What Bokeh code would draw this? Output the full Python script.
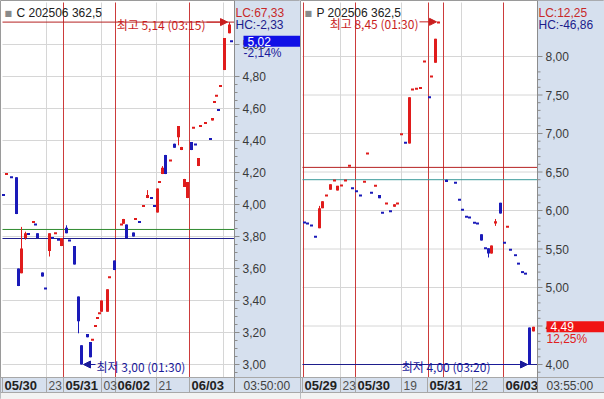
from bokeh.plotting import figure
from bokeh.models import (Range1d, Label, Arrow, NormalHead, BoxAnnotation, ColumnDataSource)
from bokeh.layouts import row
from bokeh.embed import file_html
from bokeh.resources import INLINE
from bokeh.core.properties import value

# ---------------- Call option: C 202506 362,5 ----------------
call_slot  = [3, 6, 11, 16, 18, 21, 25, 28, 33, 35, 37, 42, 45, 49, 52, 55, 58, 61, 66, 69,
              74, 78, 81, 87, 90, 92, 95, 97, 99, 101, 107, 109, 114, 121, 123, 126, 133, 135, 139, 143,
              147, 151, 154, 157, 159, 162, 165, 170, 174, 178, 181, 184, 187, 191, 193, 195, 198, 200, 205, 210,
              212, 214, 216, 218, 220, 224, 229, 231]
call_open  = [4.06, 4.19, 4.17, 4.17, 3.60, 3.57, 3.79, 3.815, 3.89, 3.875, 3.82, 3.575, 3.475, 3.71, 3.79, 3.82, 3.78, 3.74, 3.855, 3.775,
              3.74, 3.425, 3.12, 3.19, 3.14, 3.155, 3.24, 3.29, 3.32, 3.33, 3.33, 3.545, 3.65, 3.875, 3.88, 3.875, 3.825, 3.91, 3.89, 3.99,
              4.04, 4.04, 3.99, 3.95, 4.14, 4.19, 4.31, 4.275, 4.38, 4.42, 4.34, 4.11, 4.04, 4.39, 4.48, 4.375, 4.24, 4.49, 4.51, 4.41,
              4.525, 4.64, 4.68, 4.59, 4.74, 4.84, 5.07, 5.02]
call_high  = [4.06, 4.19, 4.17, 4.17, 3.60, 3.86, 3.83, 3.815, 3.89, 3.875, 3.82, 3.575, 3.475, 3.82, 3.79, 3.82, 3.78, 3.79, 3.87, 3.775,
              3.74, 3.425, 3.12, 3.19, 3.14, 3.155, 3.24, 3.29, 3.32, 3.40, 3.47, 3.545, 3.65, 3.875, 3.91, 3.875, 3.825, 3.91, 3.89, 3.99,
              4.09, 4.04, 3.99, 4.10, 4.14, 4.24, 4.31, 4.275, 4.38, 4.49, 4.36, 4.16, 4.14, 4.39, 4.48, 4.375, 4.29, 4.49, 4.51, 4.41,
              4.54, 4.64, 4.68, 4.59, 4.74, 5.04, 5.14, 5.02]
call_low   = [4.06, 4.19, 4.17, 3.94, 3.49, 3.57, 3.78, 3.815, 3.89, 3.875, 3.79, 3.55, 3.475, 3.675, 3.79, 3.82, 3.78, 3.74, 3.82, 3.775,
              3.625, 3.195, 3.00, 3.17, 3.045, 3.155, 3.24, 3.29, 3.32, 3.33, 3.33, 3.545, 3.59, 3.875, 3.88, 3.79, 3.80, 3.91, 3.89, 3.99,
              4.04, 4.04, 3.99, 3.95, 4.14, 4.19, 4.19, 4.275, 4.355, 4.37, 4.34, 4.11, 4.04, 4.34, 4.48, 4.375, 4.24, 4.49, 4.51, 4.41,
              4.525, 4.64, 4.68, 4.59, 4.74, 4.84, 5.07, 5.02]
call_close = [4.06, 4.19, 4.17, 3.94, 3.49, 3.725, 3.82, 3.815, 3.89, 3.875, 3.79, 3.55, 3.475, 3.82, 3.79, 3.82, 3.78, 3.79, 3.82, 3.775,
              3.625, 3.27, 3.00, 3.17, 3.045, 3.155, 3.24, 3.29, 3.32, 3.40, 3.47, 3.545, 3.59, 3.875, 3.91, 3.79, 3.80, 3.91, 3.89, 3.99,
              4.06, 4.04, 3.99, 4.10, 4.14, 4.23, 4.19, 4.275, 4.355, 4.49, 4.36, 4.16, 4.14, 4.34, 4.48, 4.375, 4.29, 4.49, 4.51, 4.41,
              4.54, 4.64, 4.68, 4.59, 4.74, 5.04, 5.125, 5.02]
call_day_start  = [63, 115, 189]
call_hour_lines = [46, 101, 156, 223]
call_tick_pos   = [2, 46, 63, 101, 115, 156, 189]
call_tick_text  = ["05/30", "23", "05/31", "03", "06/02", "21", "06/03"]
call_levels     = [5.14, 3.844, 3.7875]
call_y_major    = [3.0, 3.2, 3.4, 3.6, 3.8, 4.0, 4.2, 4.4, 4.6, 4.8, 5.0]
call_info       = dict(name="C 202506 362,5", lc="LC:67,33", hc="HC:-2,33", pct="-2,14%",
                       clock="03:50:00", hi_time="03:15", lo_time="01:30")

# ---------------- Put option: P 202506 362,5 ----------------
put_slot  = [304, 307, 311, 315, 319, 322, 326, 330, 334, 337, 341, 345, 349, 352, 356, 360, 364, 367, 371, 375,
             379, 382, 386, 390, 394, 397, 401, 405, 409, 412, 416, 420, 424, 429, 431, 435, 438, 446, 455, 459,
             462, 466, 469, 474, 477, 481, 485, 488, 491, 495, 500, 504, 507, 510, 515, 518, 522, 525, 529, 533]
put_open  = [5.845, 5.83, 5.805, 5.66, 5.77, 6.03, 6.195, 6.27, 6.39, 6.26, 6.325, 6.39, 6.58, 6.29, 6.25, 6.195, 6.375, 6.74, 6.23, 6.32,
             6.20, 5.97, 6.09, 5.99, 6.05, 6.09, 6.99, 6.88, 6.87, 7.57, 7.58, 7.59, 7.935, 7.47, 7.74, 7.92, 8.44, 6.40, 6.36, 6.14,
             6.01, 5.92, 5.91, 5.84, 5.83, 5.69, 5.51, 5.51, 5.44, 5.83, 6.10, 5.58, 5.79, 5.49, 5.42, 5.31, 5.20, 5.18, 4.48, 4.43]
put_high  = [5.845, 5.83, 5.805, 5.66, 6.06, 6.12, 6.195, 6.34, 6.39, 6.32, 6.325, 6.39, 6.58, 6.29, 6.25, 6.195, 6.375, 6.74, 6.23, 6.32,
             6.20, 5.97, 6.09, 5.99, 6.08, 6.09, 6.99, 6.88, 7.47, 7.57, 7.58, 7.59, 7.935, 7.47, 7.74, 8.23, 8.45, 6.40, 6.36, 6.14,
             6.01, 5.92, 5.91, 5.84, 5.83, 5.69, 5.51, 5.51, 5.545, 5.89, 6.10, 5.58, 5.79, 5.49, 5.42, 5.31, 5.20, 5.18, 4.48, 4.49]
put_low   = [5.845, 5.83, 5.805, 5.66, 5.77, 6.03, 6.195, 6.27, 6.39, 6.26, 6.325, 6.39, 6.58, 6.29, 6.25, 6.195, 6.375, 6.74, 6.23, 6.32,
             6.16, 5.97, 6.09, 5.99, 6.05, 6.09, 6.99, 6.88, 6.87, 7.57, 7.58, 7.59, 7.935, 7.47, 7.74, 7.92, 8.44, 6.37, 6.36, 6.14,
             6.01, 5.92, 5.91, 5.84, 5.83, 5.61, 5.51, 5.39, 5.44, 5.80, 5.96, 5.58, 5.79, 5.49, 5.42, 5.31, 5.20, 5.18, 4.00, 4.43]
put_close = [5.845, 5.83, 5.805, 5.66, 6.03, 6.12, 6.195, 6.34, 6.39, 6.32, 6.325, 6.39, 6.58, 6.29, 6.25, 6.195, 6.375, 6.74, 6.23, 6.32,
             6.16, 5.97, 6.09, 5.99, 6.08, 6.09, 6.99, 6.88, 7.47, 7.57, 7.58, 7.59, 7.935, 7.47, 7.74, 8.23, 8.44, 6.37, 6.36, 6.14,
             6.01, 5.92, 5.91, 5.84, 5.83, 5.61, 5.51, 5.44, 5.545, 5.86, 5.96, 5.58, 5.79, 5.49, 5.42, 5.31, 5.20, 5.18, 4.00, 4.49]
put_day_start  = [303, 355, 428, 443, 503]
put_hour_lines = [340, 401, 461]
put_tick_pos   = [302, 340, 355, 401, 427, 472, 503]
put_tick_text  = ["05/29", "23", "05/30", "19", "05/31", "22", "06/03"]
put_levels     = [6.56, 6.40, 4.00]
put_y_major    = [4.0, 4.5, 5.0, 5.5, 6.0, 6.5, 7.0, 7.5, 8.0]
put_info       = dict(name="P 202506 362,5", lc="LC:12,25", hc="HC:-46,86", pct="12,25%",
                      clock="03:55:00", hi_time="01:30", lo_time="03:20")

UP, DOWN = "#e01c1c", "#1a1ab8"
AXIS_BG = "#d6e0ee"
GRID = "#d6d6d6"
SEP = "#a8a8a8"
AXIS = "#8c8c8c"
DAYLINE = "#cc3b3b"
SANS = "Liberation Sans"
KR = "Noto Sans CJK KR"
HEIGHT = 399
PLOT_TOP_PX, PLOT_BOTTOM_PX, ROW_BOTTOM_PX = 2, 377, 392


def fmt(v):
    return f"{v:.2f}".replace(".", ",")


def candle_colors(o, c):
    cols, prev = [], None
    for oi, ci in zip(o, c):
        if ci > oi:
            up = True
        elif ci < oi:
            up = False
        else:
            up = prev is not None and ci >= prev
        cols.append(UP if up else DOWN)
        prev = ci
    return cols


def panel(t, o, h, l, c, x0, width, plot_right, y_view, y_major, y_minor_step,
          day_start, hour_lines, tick_pos, tick_text, levels, level_colors,
          info, box_color, pct_color, hi_gap, hi_side, lo_gap, lo_side):
    p = figure(width=width, height=HEIGHT, x_range=Range1d(x0, x0 + width),
               y_range=Range1d(*y_view), x_axis_location=None, y_axis_location=None,
               toolbar_location=None, output_backend="svg", min_border=0,
               background_fill_color="white", border_fill_color="white",
               outline_line_color="#9a9a9a")
    p.grid.visible = False

    def v(px):  # price value at a given pixel row of the panel
        return y_view[1] - px * (y_view[1] - y_view[0]) / HEIGHT

    plot_left = x0 + 2
    top, bottom, row_bottom = v(PLOT_TOP_PX), v(PLOT_BOTTOM_PX), v(ROW_BOTTOM_PX)
    x_end = x0 + width

    # panel backgrounds (price-axis column, time-axis row, bottom strip)
    p.add_layout(BoxAnnotation(left=plot_right, fill_color=AXIS_BG, fill_alpha=1,
                               line_alpha=0, level="underlay"))
    p.add_layout(BoxAnnotation(top=bottom, fill_color=AXIS_BG, fill_alpha=1,
                               line_alpha=0, level="underlay"))
    p.add_layout(BoxAnnotation(top=row_bottom, fill_color="#f3f3f3", fill_alpha=1,
                               line_alpha=0, level="underlay"))

    # horizontal grid at price ticks
    p.segment(x0=plot_left, x1=plot_right, y0=y_major, y1=y_major, line_color=GRID, line_width=1)
    # vertical hour grid / day separators
    p.segment(x0=hour_lines, x1=hour_lines, y0=bottom, y1=top, line_color=GRID, line_width=1)
    p.segment(x0=day_start, x1=day_start, y0=bottom, y1=top, line_color=DAYLINE, line_width=1)
    # horizontal level lines
    p.segment(x0=plot_left, x1=plot_right, y0=levels, y1=levels, line_color=level_colors, line_width=1)

    # time axis row: borders, separators, labels
    p.segment(x0=x0, x1=x_end, y0=[bottom, row_bottom], y1=[bottom, row_bottom],
              line_color=SEP, line_width=1)
    p.segment(x0=tick_pos, x1=tick_pos, y0=row_bottom, y1=bottom, line_color=SEP, line_width=1)
    is_date = ["/" in s for s in tick_text]
    p.text(x=[tx + 2 for tx in tick_pos], y=[v(385)] * len(tick_pos), text=tick_text,
           text_font=value(SANS), text_baseline="middle",
           text_font_size=["13px" if d else "12px" for d in is_date],
           text_font_style=["bold" if d else "normal" for d in is_date],
           text_color=["#222222" if d else "#505050" for d in is_date])
    p.text(x=[plot_right + 9], y=[v(385)], text=[info["clock"]], text_font=value(SANS),
           text_font_size="12px", text_baseline="middle", text_color="#404040")

    # price axis: line, ticks, labels
    p.segment(x0=plot_right, x1=plot_right, y0=row_bottom, y1=v(0), line_color=AXIS, line_width=1)
    n_minor = int(round((top - bottom) / y_minor_step)) + 4
    minors = [round(y_major[0] + (i - 2) * y_minor_step, 3) for i in range(n_minor)]
    minors = [m for m in minors if bottom <= m <= v(70) and m not in y_major]
    p.segment(x0=plot_right, x1=plot_right + 3, y0=minors, y1=minors, line_color=AXIS, line_width=1)
    p.segment(x0=plot_right, x1=plot_right + 5, y0=y_major, y1=y_major, line_color=AXIS, line_width=1)
    p.text(x=[plot_right + 8] * len(y_major), y=y_major, text=[fmt(m) for m in y_major],
           text_font=value(SANS), text_font_size="12px", text_baseline="middle",
           text_color="#3a3a3a")

    # candles
    cols = candle_colors(o, c)
    body = ColumnDataSource(dict(
        t=[ti for ti, oi, ci in zip(t, o, c) if oi != ci],
        top=[max(oi, ci) for oi, ci in zip(o, c) if oi != ci],
        bottom=[min(oi, ci) for oi, ci in zip(o, c) if oi != ci],
        color=[co for co, oi, ci in zip(cols, o, c) if oi != ci]))
    doji = ColumnDataSource(dict(
        t=[ti for ti, oi, ci in zip(t, o, c) if oi == ci],
        y=[ci for oi, ci in zip(o, c) if oi == ci],
        color=[co for co, oi, ci in zip(cols, o, c) if oi == ci]))
    wick = ColumnDataSource(dict(t=t, h=h, l=l, color=cols))
    p.segment(x0="t", y0="h", x1="t", y1="l", line_color="color", line_width=1, source=wick)
    p.vbar(x="t", width=3, top="top", bottom="bottom", fill_color="color",
           line_color=None, source=body)
    p.rect(x="t", y="y", width=3, height=2, height_units="screen", fill_color="color",
           line_color=None, source=doji)

    # high / low markers
    hi_i = max(range(len(h)), key=lambda i: h[i])
    lo_i = min(range(len(l)), key=lambda i: l[i])
    for idx, val, txt, gap, side, col in (
            (hi_i, h[hi_i], f"최고 {fmt(h[hi_i])} ({info['hi_time']})", hi_gap, hi_side, "#c81e1e"),
            (lo_i, l[lo_i], f"최저 {fmt(l[lo_i])} ({info['lo_time']})", lo_gap, lo_side, "#1a1a9a")):
        bx = t[idx]
        sgn = -1 if side == "left" else 1
        p.add_layout(Label(x=bx, y=val, x_offset=sgn * gap, y_offset=-2, text=txt,
                           text_align="right" if side == "left" else "left",
                           text_baseline="middle", text_font=KR, text_font_size="12px",
                           text_color=col))
        p.add_layout(Arrow(x_start=bx + sgn * (gap - 1), y_start=val, x_end=bx + sgn * 2, y_end=val,
                           line_color=col, line_width=1,
                           end=NormalHead(size=7, fill_color=col, line_color=col)))

    # title
    p.add_layout(Label(x=plot_left, x_offset=2, y=v(12.5), text="■", text_baseline="middle",
                       text_font="DejaVu Sans", text_font_size="8px", text_color="#8a8a8a"))
    p.add_layout(Label(x=plot_left, x_offset=14, y=v(12.5), text=info["name"],
                       text_baseline="middle", text_font=SANS, text_font_size="12px",
                       text_color="#202020"))
    # LC / HC
    p.add_layout(Label(x=plot_right, x_offset=1, y=v(12), text=info["lc"], text_baseline="middle",
                       text_font=SANS, text_font_size="12px", text_color="#c82828"))
    p.add_layout(Label(x=plot_right, x_offset=1, y=v(24), text=info["hc"], text_baseline="middle",
                       text_font=SANS, text_font_size="12px", text_color="#1c1c8c"))
    # current price box and change
    last = c[-1]
    p.add_layout(Label(x=plot_right, x_offset=9, y=last, text=fmt(last),
                       text_baseline="middle", text_font=SANS, text_font_size="12px",
                       text_color="white", background_fill_color=box_color,
                       padding=dict(left=4, right=31, top=1, bottom=1)))
    p.add_layout(Label(x=plot_right, x_offset=9, y=last, y_offset=-12, text=info["pct"],
                       text_baseline="middle", text_font=SANS, text_font_size="12px",
                       text_color=pct_color))
    return p


left = panel(call_slot, call_open, call_high, call_low, call_close,
             0, 300, 234, (2.78125, 5.275), call_y_major, 0.05,
             call_day_start, call_hour_lines, call_tick_pos, call_tick_text,
             call_levels, ["#b52222", "#2f8a2f", "#1e1e8c"],
             call_info, "#1010e6", "#1c1c9c", 24, "left", 15, "right")
right = panel(put_slot, put_open, put_high, put_low, put_close,
              300, 304, 537, (3.5455, 8.7273), put_y_major, 0.1,
              put_day_start, put_hour_lines, put_tick_pos, put_tick_text,
              put_levels, ["#b52222", "#3a9a9a", "#1e1e8c"],
              put_info, "#f01414", "#e02020", 20, "left", 39, "left")

layout = row(left, right, spacing=0)
open("out.html", "w").write(file_html(layout, INLINE))
